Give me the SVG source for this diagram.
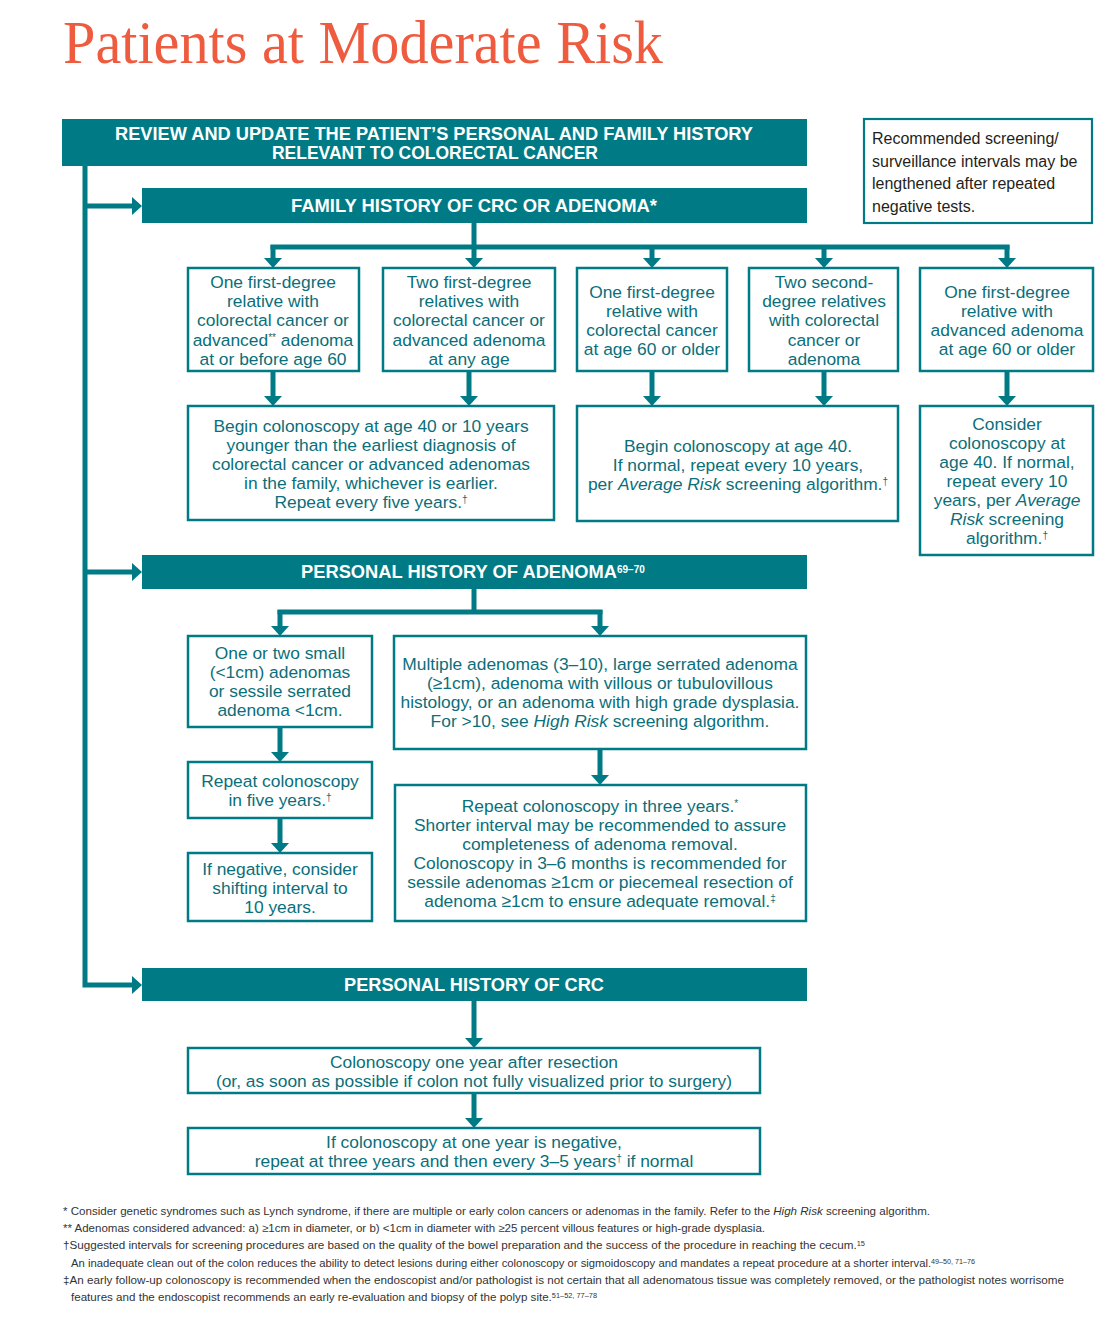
<svg xmlns="http://www.w3.org/2000/svg" width="1110" height="1326" viewBox="0 0 1110 1326">
<style>
.bar{fill:#007b86}
.box{fill:#fff;stroke:#007b86;stroke-width:2.5}
.note{fill:#fff;stroke:#007b86;stroke-width:2.2}
.hd{font-family:"Liberation Sans",Arial,sans-serif;font-weight:bold;font-size:17.5px;fill:#fff;text-anchor:middle}
.t{font-family:"Liberation Sans",Arial,sans-serif;font-size:17.4px;fill:#0a6f7a;text-anchor:middle}
.nt{font-family:"Liberation Sans",Arial,sans-serif;font-size:16px;fill:#231f20}
.fn{font-family:"Liberation Sans",Arial,sans-serif;font-size:11px;fill:#333}
.sup{font-size:10px}
.fsup{font-size:7px}
.con{fill:none;stroke:#007b86;stroke-width:5}
</style>
<defs>
<marker id="ah" markerUnits="userSpaceOnUse" viewBox="0 -9 10 18" refX="0" refY="0" markerWidth="10" markerHeight="18" orient="auto">
<path d="M0,-9 L10,0 L0,9 z" fill="#007b86"/>
</marker>
</defs>

<text x="63" y="63" font-family="'Liberation Serif','Times New Roman',serif" font-size="62" fill="#ef5b3f" textLength="600" lengthAdjust="spacingAndGlyphs">Patients at Moderate Risk</text>

<g id="connectors">
<path class="con" d="M85,166 V985 H132" marker-end="url(#ah)"/>
<path class="con" d="M85,206 H132" marker-end="url(#ah)"/>
<path class="con" d="M85,572 H132" marker-end="url(#ah)"/>
<path class="con" d="M474,223 V247"/>
<path class="con" d="M270.5,247 H1009.5"/>
<path class="con" d="M273,245 V258" marker-end="url(#ah)"/>
<path class="con" d="M474,245 V258" marker-end="url(#ah)"/>
<path class="con" d="M652,245 V258" marker-end="url(#ah)"/>
<path class="con" d="M824,245 V258" marker-end="url(#ah)"/>
<path class="con" d="M1007,245 V258" marker-end="url(#ah)"/>
<path class="con" d="M273,371 V396" marker-end="url(#ah)"/>
<path class="con" d="M469,371 V396" marker-end="url(#ah)"/>
<path class="con" d="M652,371 V396" marker-end="url(#ah)"/>
<path class="con" d="M824,371 V396" marker-end="url(#ah)"/>
<path class="con" d="M1007,371 V396" marker-end="url(#ah)"/>
<path class="con" d="M474,589 V612"/>
<path class="con" d="M277.5,612 H602.5"/>
<path class="con" d="M280,610 V626" marker-end="url(#ah)"/>
<path class="con" d="M600,610 V626" marker-end="url(#ah)"/>
<path class="con" d="M280,727 V752" marker-end="url(#ah)"/>
<path class="con" d="M280,818 V843" marker-end="url(#ah)"/>
<path class="con" d="M600,749 V775" marker-end="url(#ah)"/>
<path class="con" d="M474,1001 V1038" marker-end="url(#ah)"/>
<path class="con" d="M474,1093 V1118" marker-end="url(#ah)"/>
</g>

<g id="review">
<rect class="bar" x="62" y="119" width="745" height="47"/>
<text class="hd" x="434" y="140" textLength="638" lengthAdjust="spacingAndGlyphs">REVIEW AND UPDATE THE PATIENT’S PERSONAL AND FAMILY HISTORY</text>
<text class="hd" x="435" y="159" textLength="326" lengthAdjust="spacingAndGlyphs">RELEVANT TO COLORECTAL CANCER</text>
</g>

<g id="note">
<rect class="note" x="864" y="119" width="228" height="104"/>
<text class="nt" x="872" y="144">Recommended screening/</text>
<text class="nt" x="872" y="167">surveillance intervals may be</text>
<text class="nt" x="872" y="189">lengthened after repeated</text>
<text class="nt" x="872" y="212">negative tests.</text>
</g>

<g id="family">
<rect class="bar" x="142" y="188" width="665" height="35"/>
<text class="hd" x="474" y="212" textLength="366" lengthAdjust="spacingAndGlyphs">FAMILY HISTORY OF CRC OR ADENOMA*</text>
</g>

<g id="f1">
<rect class="box" x="188" y="268" width="171" height="103"/>
<text class="t" x="273" y="288">One first-degree</text>
<text class="t" x="273" y="307">relative with</text>
<text class="t" x="273" y="326">colorectal cancer or</text>
<text class="t" x="273" y="346">advanced<tspan class="sup" baseline-shift="super">**</tspan> adenoma</text>
<text class="t" x="273" y="365">at or before age 60</text>
</g>
<g id="f2">
<rect class="box" x="383" y="268" width="172" height="103"/>
<text class="t" x="469" y="288">Two first-degree</text>
<text class="t" x="469" y="307">relatives with</text>
<text class="t" x="469" y="326">colorectal cancer or</text>
<text class="t" x="469" y="346">advanced adenoma</text>
<text class="t" x="469" y="365">at any age</text>
</g>
<g id="f3">
<rect class="box" x="577" y="268" width="150" height="103"/>
<text class="t" x="652" y="298">One first-degree</text>
<text class="t" x="652" y="317">relative with</text>
<text class="t" x="652" y="336">colorectal cancer</text>
<text class="t" x="652" y="355">at age 60 or older</text>
</g>
<g id="f4">
<rect class="box" x="749" y="268" width="149" height="103"/>
<text class="t" x="824" y="288">Two second-</text>
<text class="t" x="824" y="307">degree relatives</text>
<text class="t" x="824" y="326">with colorectal</text>
<text class="t" x="824" y="346">cancer or</text>
<text class="t" x="824" y="365">adenoma</text>
</g>
<g id="f5">
<rect class="box" x="920" y="268" width="173" height="103"/>
<text class="t" x="1007" y="298">One first-degree</text>
<text class="t" x="1007" y="317">relative with</text>
<text class="t" x="1007" y="336">advanced adenoma</text>
<text class="t" x="1007" y="355">at age 60 or older</text>
</g>

<g id="fa">
<rect class="box" x="188" y="406" width="366" height="114"/>
<text class="t" x="371" y="432">Begin colonoscopy at age 40 or 10 years</text>
<text class="t" x="371" y="451">younger than the earliest diagnosis of</text>
<text class="t" x="371" y="470">colorectal cancer or advanced adenomas</text>
<text class="t" x="371" y="489">in the family, whichever is earlier.</text>
<text class="t" x="371" y="508">Repeat every five years.<tspan class="sup" baseline-shift="super">†</tspan></text>
</g>
<g id="fb">
<rect class="box" x="577" y="406" width="321" height="115"/>
<text class="t" x="738" y="452">Begin colonoscopy at age 40.</text>
<text class="t" x="738" y="471">If normal, repeat every 10 years,</text>
<text class="t" x="738" y="490">per <tspan font-style="italic">Average Risk</tspan> screening algorithm.<tspan class="sup" baseline-shift="super">†</tspan></text>
</g>
<g id="fc">
<rect class="box" x="920" y="406" width="173" height="149"/>
<text class="t" x="1007" y="430">Consider</text>
<text class="t" x="1007" y="449">colonoscopy at</text>
<text class="t" x="1007" y="468">age 40. If normal,</text>
<text class="t" x="1007" y="487">repeat every 10</text>
<text class="t" x="1007" y="506">years, per <tspan font-style="italic">Average</tspan></text>
<text class="t" x="1007" y="525"><tspan font-style="italic">Risk</tspan> screening</text>
<text class="t" x="1007" y="544">algorithm.<tspan class="sup" baseline-shift="super">†</tspan></text>
</g>

<g id="adenoma">
<rect class="bar" x="142" y="555" width="665" height="34"/>
<text class="hd" x="301" y="578" text-anchor="start" style="text-anchor:start"><tspan textLength="316" lengthAdjust="spacingAndGlyphs">PERSONAL HISTORY OF ADENOMA</tspan><tspan font-size="10" baseline-shift="super">69–70</tspan></text>
</g>

<g id="a1">
<rect class="box" x="188" y="636" width="184" height="91"/>
<text class="t" x="280" y="659">One or two small</text>
<text class="t" x="280" y="678">(&lt;1cm) adenomas</text>
<text class="t" x="280" y="697">or sessile serrated</text>
<text class="t" x="280" y="716">adenoma &lt;1cm.</text>
</g>
<g id="a2">
<rect class="box" x="188" y="762" width="184" height="56"/>
<text class="t" x="280" y="787">Repeat colonoscopy</text>
<text class="t" x="280" y="806">in five years.<tspan class="sup" baseline-shift="super">†</tspan></text>
</g>
<g id="a3">
<rect class="box" x="188" y="853" width="184" height="68"/>
<text class="t" x="280" y="875">If negative, consider</text>
<text class="t" x="280" y="894">shifting interval to</text>
<text class="t" x="280" y="913">10 years.</text>
</g>
<g id="a4">
<rect class="box" x="394" y="636" width="412" height="113"/>
<text class="t" x="600" y="670">Multiple adenomas (3–10), large serrated adenoma</text>
<text class="t" x="600" y="689">(≥1cm), adenoma with villous or tubulovillous</text>
<text class="t" x="600" y="708">histology, or an adenoma with high grade dysplasia.</text>
<text class="t" x="600" y="727">For &gt;10, see <tspan font-style="italic">High Risk</tspan> screening algorithm.</text>
</g>
<g id="a5">
<rect class="box" x="395" y="785" width="411" height="136"/>
<text class="t" x="600" y="812">Repeat colonoscopy in three years.<tspan class="sup" baseline-shift="super">*</tspan></text>
<text class="t" x="600" y="831">Shorter interval may be recommended to assure</text>
<text class="t" x="600" y="850">completeness of adenoma removal.</text>
<text class="t" x="600" y="869">Colonoscopy in 3–6 months is recommended for</text>
<text class="t" x="600" y="888">sessile adenomas ≥1cm or piecemeal resection of</text>
<text class="t" x="600" y="907">adenoma ≥1cm to ensure adequate removal.<tspan class="sup" baseline-shift="super">‡</tspan></text>
</g>

<g id="crc">
<rect class="bar" x="142" y="968" width="665" height="33"/>
<text class="hd" x="474" y="991" textLength="260" lengthAdjust="spacingAndGlyphs">PERSONAL HISTORY OF CRC</text>
</g>
<g id="c1">
<rect class="box" x="188" y="1048" width="572" height="45"/>
<text class="t" x="474" y="1068">Colonoscopy one year after resection</text>
<text class="t" x="474" y="1087">(or, as soon as possible if colon not fully visualized prior to surgery)</text>
</g>
<g id="c2">
<rect class="box" x="188" y="1128" width="572" height="46"/>
<text class="t" x="474" y="1148">If colonoscopy at one year is negative,</text>
<text class="t" x="474" y="1167">repeat at three years and then every 3–5 years<tspan class="sup" baseline-shift="super">†</tspan> if normal</text>
</g>

<g id="footnotes">
<text class="fn" x="63" y="1215" textLength="867" lengthAdjust="spacingAndGlyphs">* Consider genetic syndromes such as Lynch syndrome, if there are multiple or early colon cancers or adenomas in the family. Refer to the <tspan font-style="italic">High Risk</tspan> screening algorithm.</text>
<text class="fn" x="63" y="1232" textLength="702" lengthAdjust="spacingAndGlyphs">** Adenomas considered advanced: a) ≥1cm in diameter, or b) &lt;1cm in diameter with ≥25 percent villous features or high-grade dysplasia.</text>
<text class="fn" x="63" y="1249" textLength="802" lengthAdjust="spacingAndGlyphs">†Suggested intervals for screening procedures are based on the quality of the bowel preparation and the success of the procedure in reaching the cecum.<tspan class="fsup" baseline-shift="super">15</tspan></text>
<text class="fn" x="71" y="1267" textLength="904" lengthAdjust="spacingAndGlyphs">An inadequate clean out of the colon reduces the ability to detect lesions during either colonoscopy or sigmoidoscopy and mandates a repeat procedure at a shorter interval.<tspan class="fsup" baseline-shift="super">49–50, 71–76</tspan></text>
<text class="fn" x="63" y="1284" textLength="1001" lengthAdjust="spacingAndGlyphs">‡An early follow-up colonoscopy is recommended when the endoscopist and/or pathologist is not certain that all adenomatous tissue was completely removed, or the pathologist notes worrisome</text>
<text class="fn" x="71" y="1301" textLength="526" lengthAdjust="spacingAndGlyphs">features and the endoscopist recommends an early re-evaluation and biopsy of the polyp site.<tspan class="fsup" baseline-shift="super">51–52, 77–78</tspan></text>
</g>
</svg>
